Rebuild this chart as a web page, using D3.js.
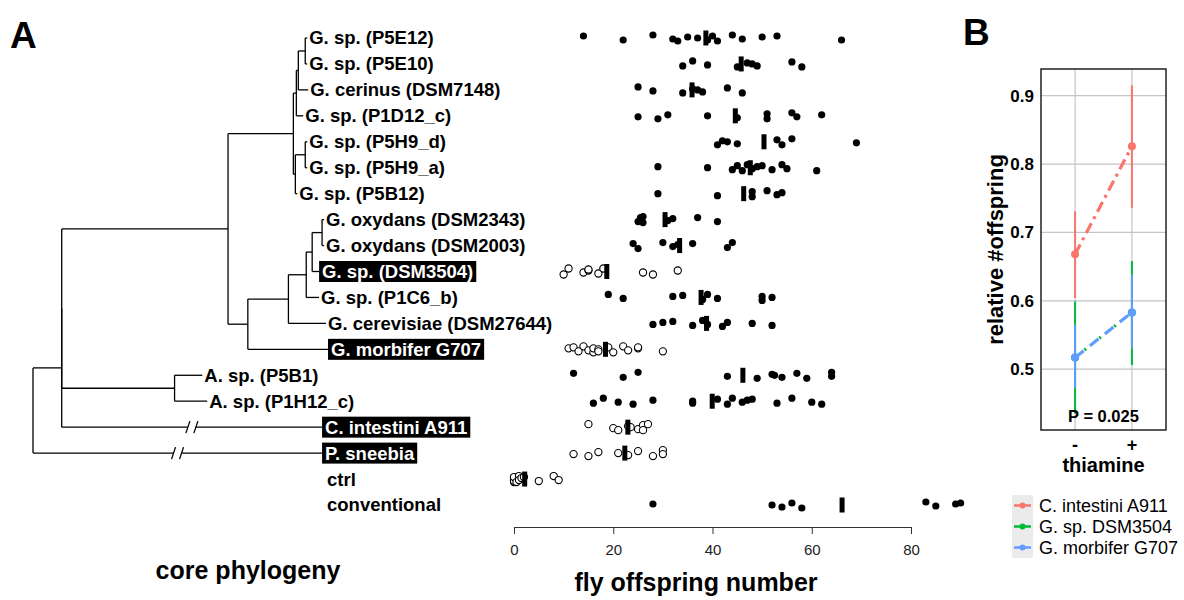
<!DOCTYPE html>
<html>
<head>
<meta charset="utf-8">
<script src="https://cdn.jsdelivr.net/npm/d3@7"></script>
<style>
  body { margin: 0; background: #fff; }
  svg { display: block; font-family: "Liberation Sans", Arial, sans-serif; }
</style>
</head>
<body>
<div id="chart"></div>
<script>
// ---- panel A data ----
const strainRows = [
  "G. sp. (P5E12)", "G. sp. (P5E10)", "G. cerinus (DSM7148)", "G. sp. (P1D12_c)",
  "G. sp. (P5H9_d)", "G. sp. (P5H9_a)", "G. sp. (P5B12)", "G. oxydans (DSM2343)",
  "G. oxydans (DSM2003)", "G. sp. (DSM3504)", "G. sp. (P1C6_b)", "G. cerevisiae (DSM27644)",
  "G. morbifer G707", "A. sp. (P5B1)", "A. sp. (P1H12_c)", "C. intestini A911",
  "P. sneebia", "ctrl", "conventional"
];

// fly offspring counts, one list per row (same order as strainRows)
const offspring = [
  [14, 22, 28, 32, 33, 35, 37, 39, 40, 41, 44, 46, 50, 53, 66],
  [34, 36, 39, 45, 47, 48, 49, 56, 58],
  [25, 28, 34, 36, 37, 38, 43, 46],
  [25, 29, 31, 39, 45, 51, 51, 56, 57, 62],
  [41, 42, 43, 45, 53, 54, 56, 69],
  [29, 39, 44, 45, 46, 47, 48, 49, 50, 52, 54, 55, 61],
  [29, 41, 48, 48, 51, 53, 54],
  [25, 25.5, 26, 26, 31, 32, 37, 41],
  [24, 25, 30, 32, 33, 36, 43, 44],
  [10, 11, 14, 15, 15, 17, 18, 26, 28, 33],
  [19, 22, 32, 34, 38, 39, 41, 50, 50, 52],
  [28, 30, 32, 36, 38, 39, 42, 43, 48, 52],
  [11, 12, 13, 14, 15, 16, 16, 17, 17, 19, 20, 22, 23, 25, 25, 30],
  [12, 22, 25, 43, 49, 52, 52.5, 54, 57, 59, 64, 64],
  [16, 18, 21, 24, 28, 36, 36, 41, 43, 44, 46, 47, 48, 53, 56, 60, 62],
  [15, 20, 21, 23, 23.5, 25, 26, 26, 27],
  [12, 15, 17, 21, 23, 25, 28, 30, 30],
  [0, 0, 0, 0, 0, 0.5, 1, 1, 1.5, 2, 5, 8, 9],
  [28, 52, 54, 56, 58, 83, 85, 89, 90]
];

const hollowRows = ["G. sp. (DSM3504)", "G. morbifer G707", "C. intestini A911", "P. sneebia", "ctrl"];
const highlighted = ["G. sp. (DSM3504)", "G. morbifer G707", "C. intestini A911", "P. sneebia"];
const extraRows = ["ctrl", "conventional"];
const offspringTicks = [0, 20, 40, 60, 80];

// core phylogeny, branch lengths
const phylogeny = {
  len: 0, children: [
    { len: 0.029, children: [
      { len: 0, children: [
        { len: 0.168, children: [
          { len: 0.066, children: [
            { len: 0.003, children: [
              { len: 0.002, children: [
                { len: 0.007, children: [
                  { name: "G. sp. (P5E12)", len: 0.002 },
                  { name: "G. sp. (P5E10)", len: 0.002 }
                ]},
                { name: "G. cerinus (DSM7148)", len: 0.010 }
              ]},
              { name: "G. sp. (P1D12_c)", len: 0.007 }
            ]},
            { len: 0.002, children: [
              { len: 0.010, children: [
                { name: "G. sp. (P5H9_d)", len: 0.002 },
                { name: "G. sp. (P5H9_a)", len: 0.002 }
              ]},
              { name: "G. sp. (P5B12)", len: 0.002 }
            ]}
          ]},
          { len: 0.020, children: [
            { len: 0.041, children: [
              { len: 0.018, children: [
                { len: 0.006, children: [
                  { len: 0.010, children: [
                    { name: "G. oxydans (DSM2343)", len: 0.002 },
                    { name: "G. oxydans (DSM2003)", len: 0.002 }
                  ]},
                  { name: "G. sp. (DSM3504)", len: 0.007 }
                ]},
                { name: "G. sp. (P1C6_b)", len: 0.013 }
              ]},
              { name: "G. cerevisiae (DSM27644)", len: 0.038 }
            ]},
            { name: "G. morbifer G707", len: 0.081 }
          ]}
        ]},
        { len: 0.114, children: [
          { name: "A. sp. (P5B1)", len: 0.028 },
          { name: "A. sp. (P1H12_c)", len: 0.033 }
        ]}
      ]},
      { name: "C. intestini A911", len: 0.263, broken: true }
    ]},
    { name: "P. sneebia", len: 0.292, broken: true }
  ]
};

// ---- panel B data ----
const thiamine = ["-", "+"];
const strainsB = ["C. intestini A911", "G. sp. DSM3504", "G. morbifer G707"];
const colorsB = ["#F8766D", "#00BA38", "#619CFF"];
const meanB = [[0.668, 0.826], [0.517, 0.583], [0.517, 0.583]];
const lowB = [[0.604, 0.736], [0.435, 0.506], [0.472, 0.530]];
const highB = [[0.731, 0.915], [0.599, 0.658], [0.565, 0.638]];
const ticksB = [0.5, 0.6, 0.7, 0.8, 0.9];

// ---- setup ----
const width = 1184, height = 600;
const svg = d3.select("#chart").append("svg")
  .attr("width", width).attr("height", height);
svg.append("rect").attr("width", width).attr("height", height).attr("fill", "#fff");

const rowY = d3.scalePoint().domain(strainRows).range([38, 505]);
const x = d3.scaleLinear().domain([0, 80]).range([514, 911]);
const treeX = d3.scaleLinear().domain([0, 0.3]).range([33, 330]);

// panel letters
svg.append("text").attr("x", 10).attr("y", 48).attr("font-size", 37)
  .attr("font-weight", "bold").text("A");
svg.append("text").attr("x", 963).attr("y", 45).attr("font-size", 37)
  .attr("font-weight", "bold").text("B");

// ---- tree ----
const root = d3.hierarchy(phylogeny);
root.eachBefore(d => { d.depthLen = (d.parent ? d.parent.depthLen : 0) + d.data.len; });
root.eachAfter(d => {
  if (d.children) {
    const ys = d.children.map(c => c.yPos);
    d.yPos = (d3.min(ys) + d3.max(ys)) / 2;
  } else {
    d.yPos = rowY(d.data.name);
  }
});

const tree = svg.append("g").attr("stroke", "#000").attr("stroke-width", 1.3).attr("fill", "none");

root.each(d => {
  if (d.children) {
    tree.append("line")
      .attr("x1", treeX(d.depthLen)).attr("x2", treeX(d.depthLen))
      .attr("y1", d3.min(d.children, c => c.yPos)).attr("y2", d3.max(d.children, c => c.yPos));
  }
  if (d.parent) {
    const x0 = treeX(d.parent.depthLen), x1 = treeX(d.depthLen);
    if (d.data.broken) {
      const xm = (x0 + x1) / 2;
      tree.append("line").attr("x1", x0).attr("x2", xm - 4).attr("y1", d.yPos).attr("y2", d.yPos);
      tree.append("line").attr("x1", xm + 4).attr("x2", x1).attr("y1", d.yPos).attr("y2", d.yPos);
      [-4, 4].forEach(o => {
        tree.append("line")
          .attr("x1", xm + o - 2).attr("x2", xm + o + 2)
          .attr("y1", d.yPos + 6).attr("y2", d.yPos - 6);
      });
    } else {
      tree.append("line").attr("x1", x0).attr("x2", x1).attr("y1", d.yPos).attr("y2", d.yPos);
    }
  }
});

// tip labels
const labels = svg.append("g").attr("font-size", 18.5).attr("font-weight", "bold");
root.leaves().forEach(d => {
  const tx = treeX(d.depthLen);
  const name = d.data.name;
  if (highlighted.includes(name)) {
    const t = labels.append("text").attr("x", tx + 3).attr("y", d.yPos).attr("dy", "0.35em")
      .attr("fill", "#fff").text(name);
    const w = t.node().getComputedTextLength();
    labels.insert("rect", () => t.node())
      .attr("x", tx).attr("y", d.yPos - 10.5).attr("width", w + 6).attr("height", 21)
      .attr("fill", "#000");
  } else {
    labels.append("text").attr("x", tx + 2).attr("y", d.yPos).attr("dy", "0.35em")
      .attr("fill", "#000").text(name);
  }
});
extraRows.forEach(name => {
  labels.append("text").attr("x", 327).attr("y", rowY(name)).attr("dy", "0.35em").text(name);
});

svg.append("text").attr("x", 248).attr("y", 579).attr("text-anchor", "middle")
  .attr("font-size", 25).attr("font-weight", "bold").text("core phylogeny");

// ---- dot plot ----
const jitter = [-2, 2, -3, 1, 3, -1, 0, 2, -2, 3, -3, 1, -1];
const dots = svg.append("g");
strainRows.forEach((name, r) => {
  const vals = offspring[r];
  const hollow = hollowRows.includes(name);
  const cy = rowY(name);
  dots.append("g").selectAll("circle").data(vals).join("circle")
    .attr("cx", v => x(v))
    .attr("cy", (v, i) => cy + jitter[(i + r) % jitter.length])
    .attr("r", hollow ? 3.6 : 3.6)
    .attr("fill", hollow ? "#fff" : "#000")
    .attr("stroke", "#000")
    .attr("stroke-width", hollow ? 1.1 : 0);
  const m = d3.mean(vals);
  dots.append("rect")
    .attr("x", x(m) - 2.5).attr("y", cy - 7.5)
    .attr("width", 5).attr("height", 15).attr("fill", "#000");
});

const axis = svg.append("g").attr("transform", "translate(0,527)")
  .call(d3.axisBottom(x).tickValues(offspringTicks).tickSize(7).tickPadding(10).tickSizeOuter(0));
axis.select(".domain").attr("stroke", "#333");
axis.selectAll(".tick line").attr("stroke", "#333");
axis.selectAll(".tick text").attr("font-size", 15).attr("fill", "#222")
  .attr("font-family", "\"Liberation Sans\", Arial, sans-serif");

svg.append("text").attr("x", 696).attr("y", 591).attr("text-anchor", "middle")
  .attr("font-size", 25).attr("font-weight", "bold").text("fly offspring number");

// ---- panel B ----
const px0 = 1041, px1 = 1166, py0 = 69, py1 = 430;
const xB = d3.scalePoint().domain(thiamine).range([px0, px1]).padding(0.6);
const yB = d3.scaleLinear().domain([0.411, 0.939]).range([py1, py0]);

const pB = svg.append("g");
pB.append("rect").attr("x", px0).attr("y", py0).attr("width", px1 - px0).attr("height", py1 - py0)
  .attr("fill", "#fff");
pB.append("g").selectAll("line").data(ticksB).join("line")
  .attr("x1", px0).attr("x2", px1).attr("y1", d => yB(d)).attr("y2", d => yB(d))
  .attr("stroke", "#c4c4c4").attr("stroke-width", 1.2);
pB.append("g").selectAll("line").data(thiamine).join("line")
  .attr("x1", d => xB(d)).attr("x2", d => xB(d)).attr("y1", py0).attr("y2", py1)
  .attr("stroke", "#c4c4c4").attr("stroke-width", 1.2);

const dashes = ["11,5,3,5", "2,17", "11,8"];
strainsB.forEach((s, k) => {
  const g = pB.append("g");
  thiamine.forEach((t, j) => {
    g.append("line").attr("x1", xB(t)).attr("x2", xB(t))
      .attr("y1", yB(lowB[k][j])).attr("y2", yB(highB[k][j]))
      .attr("stroke", colorsB[k]).attr("stroke-width", 2);
  });
  g.append("line")
    .attr("x1", xB(thiamine[0])).attr("y1", yB(meanB[k][0]))
    .attr("x2", xB(thiamine[1])).attr("y2", yB(meanB[k][1]))
    .attr("stroke", colorsB[k]).attr("stroke-width", 3.2)
    .attr("stroke-dasharray", dashes[k]).attr("stroke-dashoffset", k === 1 ? -12 : 0);
  g.selectAll("circle").data(thiamine).join("circle")
    .attr("cx", t => xB(t)).attr("cy", (t, j) => yB(meanB[k][j])).attr("r", 4)
    .attr("fill", colorsB[k]);
});

pB.append("rect").attr("x", px0).attr("y", py0).attr("width", px1 - px0).attr("height", py1 - py0)
  .attr("fill", "none").attr("stroke", "#222").attr("stroke-width", 1.5);

pB.append("g").selectAll("text").data(ticksB).join("text")
  .attr("x", 1034).attr("y", d => yB(d)).attr("dy", "0.35em").attr("text-anchor", "end")
  .attr("font-size", 17).attr("font-weight", "bold").text(d => d3.format(".1f")(d));
pB.append("g").selectAll("text").data(thiamine).join("text")
  .attr("x", d => xB(d)).attr("y", 451).attr("text-anchor", "middle")
  .attr("font-size", 18).attr("font-weight", "bold").text(d => d);

pB.append("text").attr("x", (px0 + px1) / 2).attr("y", 422).attr("text-anchor", "middle")
  .attr("font-size", 16.5).attr("font-weight", "bold").text("P = 0.025");

pB.append("text").attr("transform", `translate(995,${(py0 + py1) / 2}) rotate(-90)`)
  .attr("text-anchor", "middle").attr("dy", "0.35em")
  .attr("font-size", 22).attr("font-weight", "bold").text("relative #offspring");
pB.append("text").attr("x", (px0 + px1) / 2).attr("y", 472).attr("text-anchor", "middle")
  .attr("font-size", 20).attr("font-weight", "bold").text("thiamine");

// legend
const leg = svg.append("g");
strainsB.forEach((s, k) => {
  const cy = 505.5 + k * 21;
  leg.append("rect").attr("x", 1012).attr("y", cy - 10.5).attr("width", 21).attr("height", 21)
    .attr("fill", "#ebebeb");
  leg.append("line").attr("x1", 1014).attr("x2", 1031).attr("y1", cy).attr("y2", cy)
    .attr("stroke", colorsB[k]).attr("stroke-width", 2.5);
  leg.append("circle").attr("cx", 1022.5).attr("cy", cy).attr("r", 3).attr("fill", colorsB[k]);
  leg.append("text").attr("x", 1039).attr("y", cy).attr("dy", "0.35em")
    .attr("font-size", 18).text(s);
});
</script>
</body>
</html>
